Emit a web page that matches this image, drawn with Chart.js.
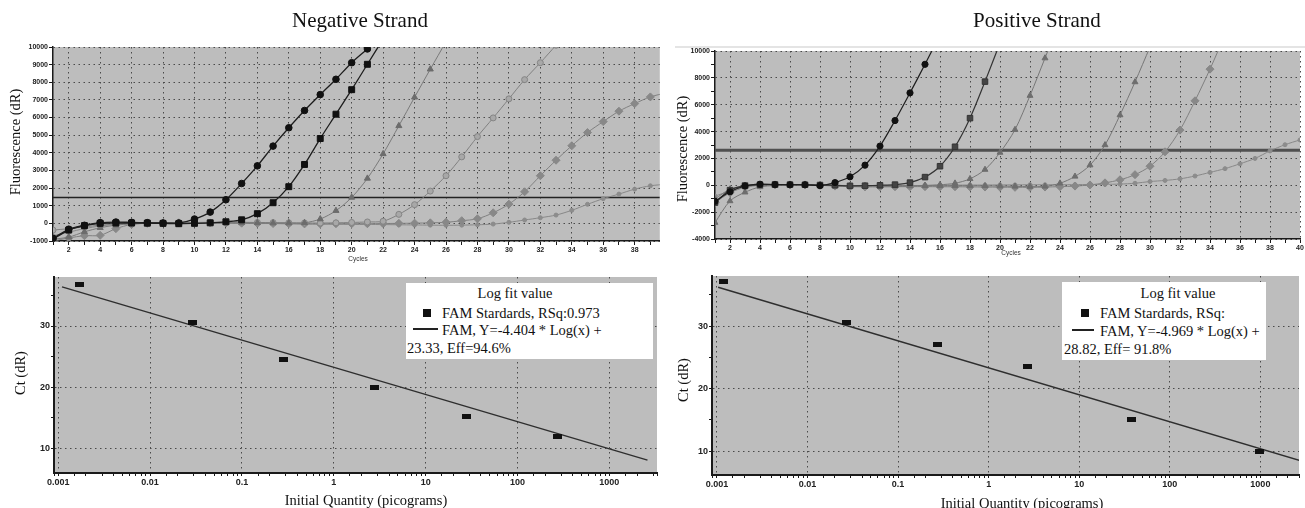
<!DOCTYPE html>
<html>
<head>
<meta charset="utf-8">
<script src="https://cdn.jsdelivr.net/npm/chart.js@4.4.1/dist/chart.umd.min.js"></script>
<style>
  body { margin: 0; background: #fff; width: 1305px; height: 508px; overflow: hidden; position: relative;
         font-family: "Liberation Serif", "Times New Roman", serif; color: #111; }
  canvas { position: absolute; }
  .t { position: absolute; white-space: nowrap; line-height: 1; }
  .ttl { font-size: 21px; transform: translateX(-50%); }
  .rot { font-size: 14.5px; transform: translate(-50%, -50%) rotate(-90deg); }
  .xt { font-size: 14.5px; transform: translate(-50%, -50%); }
  .cyc { font: 6.5px "Liberation Sans", Arial, sans-serif; color: #333; transform: translate(-50%, -50%); }
  .legend { position: absolute; background: #fff; }
  .legend .t { font-size: 14.5px; line-height: 18px; }
  .sq { position: absolute; width: 8px; height: 8px; background: #111; }
  .ln { position: absolute; height: 2px; background: #222; }
</style>
</head>
<body>

<canvas id="negAmp" width="665" height="262" style="left:0;top:0"></canvas>
<canvas id="posAmp" width="640" height="262" style="left:665px;top:0"></canvas>
<canvas id="negStd" width="665" height="246" style="left:0;top:262px"></canvas>
<canvas id="posStd" width="640" height="246" style="left:665px;top:262px"></canvas>

<div style="position:absolute;left:675px;top:46px;width:630px;height:2px;background:#e4e4e4"></div>

<div class="t ttl" style="left:360px;top:10px">Negative Strand</div>
<div class="t ttl" style="left:1037px;top:10px">Positive Strand</div>

<div class="t rot" style="left:15px;top:142px">Fluorescence (dR)</div>
<div class="t rot" style="left:682px;top:149px">Fluorescence (dR)</div>
<div class="t rot" style="left:20px;top:373px">Ct (dR)</div>
<div class="t rot" style="left:683px;top:380px">Ct (dR)</div>

<div class="t cyc" style="left:358px;top:258px">Cycles</div>
<div class="t cyc" style="left:1011px;top:252px">Cycles</div>

<div class="t xt" style="left:366px;top:500px">Initial Quantity (picograms)</div>
<div class="t xt" style="left:1022px;top:503px">Initial Quantity (picograms)</div>

<div class="legend" style="left:406px;top:283px;width:247px;height:76px">
  <div class="t" style="left:109px;top:1px;transform:translateX(-50%)">Log fit value</div>
  <div class="sq" style="left:17px;top:26px"></div>
  <div class="t" style="left:36px;top:21px">FAM Stardards, RSq:0.973</div>
  <div class="ln" style="left:7px;top:45px;width:25px"></div>
  <div class="t" style="left:36px;top:38px">FAM, Y=-4.404 * Log(x) +</div>
  <div class="t" style="left:1px;top:56px">23.33, Eff=94.6%</div>
</div>

<div class="legend" style="left:1062px;top:282px;width:204px;height:78px">
  <div class="t" style="left:116px;top:2px;transform:translateX(-50%)">Log fit value</div>
  <div class="sq" style="left:19px;top:27px"></div>
  <div class="t" style="left:38px;top:22px">FAM Stardards, RSq:</div>
  <div class="ln" style="left:10px;top:47px;width:22px"></div>
  <div class="t" style="left:38px;top:40px">FAM, Y=-4.969 * Log(x) +</div>
  <div class="t" style="left:2px;top:58px">28.82, Eff= 91.8%</div>
</div>

<script>
/* ---------------- data ---------------- */
const cycles = [1, 2, 3, 4, 5, 6, 7, 8, 9, 10, 11, 12, 13, 14, 15, 16, 17, 18, 19, 20,
                21, 22, 23, 24, 25, 26, 27, 28, 29, 30, 31, 32, 33, 34, 35, 36, 37, 38, 39, 40];

// Negative strand amplification (dR per cycle)
const negCircles   = [-850, -340, -110, 40, 75, 55, 40, 20, 20, 245, 640, 1340, 2260, 3260, 4380, 5420, 6400, 7300, 8170, 9110, 9890, 10700];
const negSquares   = [-900, -380, -130, 0, 20, 20, 10, 0, -20, 0, 30, 90, 200, 550, 1170, 2080, 3340, 4810, 6190, 7580, 9020, 10450];
const negTriangles = [-900, -780, -480, -250, -100, -30, 0, 10, 20, 30, 40, 40, 30, 30, 20, 20, 30, 245, 720, 1470, 2550, 3940, 5530, 7150, 8740, 10300];
const negOpen      = [-380, -300, -200, -100, -40, 0, 20, 30, 40, 50, 60, 60, 60, 50, 40, 30, 20, 20, 30, 50, 80, 120, 510, 1060, 1830, 2700, 3770, 4920, 5980, 7060, 8150, 9110, 10100];
const negDiamonds  = [-1000, -830, -700, -680, -300, -60, 0, 20, 30, 30, 20, 20, 10, 0, -10, -20, -30, -30, -20, -20, -20, -10, 0, 10, 30, 60, 150, 260, 600, 1090, 1790, 2700, 3580, 4400, 5150, 5770, 6360, 6790, 7170, 7400];
const negDots      = [-700, -500, -300, -150, -60, -20, 0, 0, 10, 10, 10, 0, 0, -10, -10, -20, -30, -40, -50, -60, -60, -70, -80, -90, -100, -110, -100, -80, -40, 60, 190, 320, 470, 740, 1080, 1400, 1660, 1940, 2130, 2220];
const negThreshold = 1470;

// Positive strand amplification
const posCircles   = [-1190, -480, -50, 80, 50, 40, 40, -25, 200, 630, 1500, 2920, 4820, 6880, 9010, 11200];
const posSquares   = [-1290, -360, -20, 40, 60, 50, 40, 20, 0, -40, -30, 0, 50, 200, 610, 1420, 2870, 5000, 7720, 10600];
const posTriA      = [-2780, -1170, -520, -120, -20, 20, 30, 10, -20, -40, -50, -50, -40, -30, -10, 40, 150, 480, 1170, 2440, 4140, 6680, 9470, 12300];
const posTriB      = [-1020, -290, -60, 20, 30, 30, 20, 0, -20, -50, -60, -70, -60, -50, -40, -40, -30, -30, -40, -60, -80, -100, -80, 150, 660, 1500, 3000, 5230, 7690, 10300];
const posDiamonds  = [-1290, -560, -150, 0, 30, 30, 30, 0, -60, -100, -120, -120, -110, -100, -100, -110, -110, -120, -130, -140, -150, -150, -130, -100, -60, 25, 180, 410, 790, 1420, 2490, 4110, 6290, 8650, 11200];
const posDots      = [-800, -440, -100, 20, 40, 40, 30, 20, 0, -20, -30, -40, -40, -30, -20, 0, 10, 20, 20, 30, 30, 40, 40, 40, 50, 60, 70, 90, 150, 280, 360, 480, 690, 960, 1240, 1600, 2000, 2560, 3020, 3380];
const posThreshold = 2600;

// Standard curves (initial quantity in pg vs Ct)
const qtyTicks  = [0.001, 0.01, 0.1, 1, 10, 100, 1000];
const negQty    = [0.0017, 0.029, 0.28, 2.8, 28, 270];
const negCt     = [36.7, 30.5, 24.6, 19.9, 15.2, 12.0];
const negFitQty = [0.0011, 2600];
const negFitCt  = [36.4, 8.1];
const posQty    = [0.00117, 0.027, 0.27, 2.7, 38, 980];
const posCt     = [37.2, 30.5, 27.0, 23.6, 15.1, 10.0];
const posFitQty = [0.00103, 2700];
const posFitCt  = [36.2, 8.55];

/* ---------------- helpers ---------------- */
const GRID = '#4a4a4a';
const AXIS = '#1a1a1a';
const NONE = 'rgba(0,0,0,0)';
const smallFont = { family: 'Liberation Sans, Arial, sans-serif', size: 7, weight: 'bold' };
const stdFont = { family: 'Liberation Sans, Arial, sans-serif', size: 9, weight: 'bold' };

const pts = (xs, ys) => ys.map((y, i) => (y === null ? null : { x: xs[i], y })).filter(Boolean);

// pin the plot rectangle to fixed pixels inside the canvas
function areaHooks(w, h, a) {
  return {
    padding: { left: 0, top: a.top, right: w - a.right, bottom: 0 },
    xFit: s => { s.height = h - a.bottom; s.paddingLeft = 0; s.paddingRight = 0; },
    yFit: s => { s.width = a.left; s.paddingTop = 0; s.paddingBottom = 0; }
  };
}

const plotBg = {
  id: 'plotBg',
  beforeDraw(chart) {
    const { ctx, chartArea: a } = chart;
    ctx.save();
    ctx.fillStyle = '#bdbdbd';
    ctx.fillRect(a.left, a.top, a.right - a.left, a.bottom - a.top);
    ctx.restore();
  }
};

function curve(values, style) {
  return Object.assign({
    data: pts(cycles, values),
    borderWidth: 1,
    tension: 0.3,
    fill: false,
    pointBorderWidth: 1
  }, style);
}

function flat(value, x0, x1, color, width) {
  return {
    data: [{ x: x0, y: value }, { x: x1, y: value }],
    borderColor: color, borderWidth: width, pointRadius: 0, tension: 0
  };
}

const baseOptions = (hooks) => ({
  responsive: false,
  animation: false,
  devicePixelRatio: 1,
  layout: { padding: hooks.padding },
  plugins: { legend: { display: false }, tooltip: { enabled: false }, title: { display: false } }
});

/* ---------------- amplification plots ---------------- */
function ampChart(id, w, h, area, xMax, yMin, yMax, labelEvery, datasets) {
  const hooks = areaHooks(w, h, area);
  const opts = baseOptions(hooks);
  opts.scales = {
    x: {
      type: 'linear', min: 1, max: xMax, afterFit: hooks.xFit,
      ticks: {
        stepSize: 1, includeBounds: false, autoSkip: false, maxRotation: 0, padding: 1,
        color: '#222', font: smallFont,
        callback: v => (v % 2 === 0 ? String(v) : '')
      },
      grid: {
        color: c => (c.tick && c.tick.value % 2 === 0 ? GRID : NONE),
        tickColor: AXIS, tickLength: 4, lineWidth: 1
      },
      border: { color: AXIS, width: 1.5, dash: [1.5, 3.5] }
    },
    y: {
      min: yMin, max: yMax, afterFit: hooks.yFit,
      ticks: {
        stepSize: 1000, includeBounds: false, autoSkip: false, padding: 1,
        color: '#222', font: smallFont,
        callback: v => (v % labelEvery === 0 ? String(v) : '')
      },
      grid: {
        color: c => (c.tick && c.tick.value % labelEvery === 0 ? GRID : NONE),
        tickColor: AXIS, tickLength: 4, lineWidth: 1
      },
      border: { color: AXIS, width: 1.5, dash: [1.5, 3.5] }
    }
  };
  return new Chart(document.getElementById(id), {
    type: 'line', data: { datasets }, options: opts, plugins: [plotBg]
  });
}

ampChart('negAmp', 665, 262, { left: 53, top: 47, right: 660, bottom: 241 }, 39.6, -1000, 10000, 1000, [
  curve(negCircles,   { borderColor: '#1e1e1e', borderWidth: 1.3, pointStyle: 'circle',  pointRadius: 3.3, pointBackgroundColor: '#111', pointBorderColor: '#111' }),
  curve(negSquares,   { borderColor: '#1e1e1e', borderWidth: 1.3, pointStyle: 'rect',    pointRadius: 4.2, pointBackgroundColor: '#111', pointBorderColor: '#111' }),
  curve(negTriangles, { borderColor: '#7a7a7a', pointStyle: 'triangle', pointRadius: 3.5, pointBackgroundColor: '#6c6c6c', pointBorderColor: '#6c6c6c' }),
  curve(negOpen,      { borderColor: '#808080', pointStyle: 'circle',   pointRadius: 3,   pointBackgroundColor: '#a8a8a8', pointBorderColor: '#858585' }),
  curve(negDiamonds,  { borderColor: '#808080', pointStyle: 'rectRot',  pointRadius: 4,   pointBackgroundColor: '#888', pointBorderColor: '#888' }),
  curve(negDots,      { borderColor: '#888',    pointStyle: 'circle',   pointRadius: 2,   pointBackgroundColor: '#8c8c8c', pointBorderColor: '#8c8c8c' }),
  flat(negThreshold, 1, 39.6, '#222', 1.6)
]);

ampChart('posAmp', 640, 262, { left: 50, top: 51, right: 640, bottom: 239 }, 40, -4000, 10000, 2000, [
  curve(posCircles,  { borderColor: '#1e1e1e', borderWidth: 1.2, pointStyle: 'circle', pointRadius: 3.1, pointBackgroundColor: '#111', pointBorderColor: '#111' }),
  curve(posSquares,  { borderColor: '#333',    borderWidth: 1.2, pointStyle: 'rect',   pointRadius: 3.9, pointBackgroundColor: '#444', pointBorderColor: '#333' }),
  curve(posTriA,     { borderColor: '#777', pointStyle: 'triangle', pointRadius: 3.4, pointBackgroundColor: '#6e6e6e', pointBorderColor: '#6e6e6e' }),
  curve(posTriB,     { borderColor: '#777', pointStyle: 'triangle', pointRadius: 3.4, pointBackgroundColor: '#6e6e6e', pointBorderColor: '#6e6e6e' }),
  curve(posDiamonds, { borderColor: '#808080', pointStyle: 'rectRot', pointRadius: 4, pointBackgroundColor: '#888', pointBorderColor: '#888' }),
  curve(posDots,     { borderColor: '#888', pointStyle: 'circle', pointRadius: 2, pointBackgroundColor: '#8c8c8c', pointBorderColor: '#8c8c8c' }),
  flat(posThreshold, 1, 40, '#505050', 3)
]);

/* ---------------- standard curves ---------------- */
const bar = document.createElement('canvas');
bar.width = 9; bar.height = 5;
const bctx = bar.getContext('2d');
bctx.fillStyle = '#111';
bctx.fillRect(0, 0, 9, 5);

const isDecade = v => qtyTicks.find(t => Math.abs(v / t - 1) < 1e-6);

function stdChart(id, w, h, area, xMin, xMax, yMin, yMax, qty, ct, fitQty, fitCt) {
  const hooks = areaHooks(w, h, area);
  const opts = baseOptions(hooks);
  opts.scales = {
    x: {
      type: 'logarithmic', min: xMin, max: xMax, afterFit: hooks.xFit,
      ticks: {
        autoSkip: false, maxRotation: 0, padding: 1, color: '#222', font: stdFont,
        callback: v => { const d = isDecade(v); return d === undefined ? '' : String(d); }
      },
      grid: {
        color: c => (c.tick && isDecade(c.tick.value) !== undefined ? GRID : NONE),
        tickColor: AXIS, tickLength: 3, lineWidth: 1
      },
      border: { color: AXIS, width: 2, dash: [1.5, 3.5] }
    },
    y: {
      min: yMin, max: yMax, afterFit: hooks.yFit,
      ticks: {
        stepSize: 5, includeBounds: false, autoSkip: false, padding: 1, color: '#222', font: stdFont,
        callback: v => (v % 10 === 0 ? String(v) : '')
      },
      grid: {
        color: c => (c.tick && c.tick.value % 10 === 0 ? GRID : NONE),
        tickColor: AXIS, tickLength: 3, lineWidth: 1
      },
      border: { color: AXIS, width: 2, dash: [1.5, 3.5] }
    }
  };
  return new Chart(document.getElementById(id), {
    type: 'line',
    data: {
      datasets: [
        { data: pts(qty, ct), showLine: false, pointStyle: bar, pointRadius: 5 },
        { data: pts(fitQty, fitCt), borderColor: '#2e2e2e', borderWidth: 1.4, pointRadius: 0, tension: 0 }
      ]
    },
    options: opts,
    plugins: [plotBg]
  });
}

stdChart('negStd', 665, 246, { left: 54, top: 15, right: 657, bottom: 211 }, 0.0009, 3300, 6, 38,
  negQty, negCt, negFitQty, negFitCt);
stdChart('posStd', 640, 246, { left: 47, top: 14, right: 640, bottom: 213 }, 0.000882, 2670, 6.2, 38,
  posQty, posCt, posFitQty, posFitCt);
</script>
</body>
</html>
